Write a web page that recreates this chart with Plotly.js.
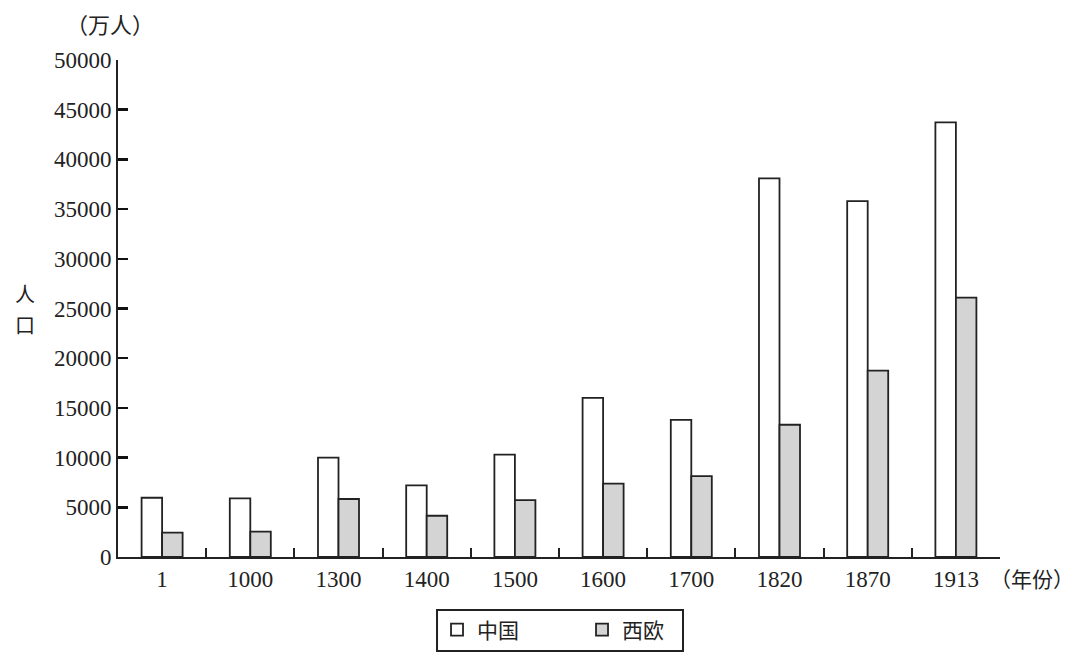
<!DOCTYPE html>
<html>
<head>
<meta charset="utf-8">
<script src="https://cdn.plot.ly/plotly-3.0.1.min.js"></script>
<style>html,body{margin:0;padding:0;background:#fff;}#chart{width:1080px;height:665px;}</style>
</head>
<body>
<div id="chart"></div>
<script>
const years = ["1", "1000", "1300", "1400", "1500", "1600", "1700", "1820", "1870", "1913"];
const china = [5960, 5900, 10000, 7200, 10300, 16000, 13800, 38100, 35800, 43716];
const westEurope = [2460, 2556, 5835, 4150, 5727, 7378, 8146, 13304, 18753, 26101];
const seriesNames = ["中国", "西欧"];
const yTicks = [0, 5000, 10000, 15000, 20000, 25000, 30000, 35000, 40000, 45000, 50000];

const serif = "Liberation Serif, Times New Roman, serif";
const cjk = "Noto Sans CJK SC, sans-serif";
const lineCol = "#222";

const traces = [
  {type: "bar", x: years, y: china, name: seriesNames[0],
   marker: {color: "#ffffff", line: {color: lineCol, width: 1.8}}},
  {type: "bar", x: years, y: westEurope, name: seriesNames[1],
   marker: {color: "#d4d4d4", line: {color: lineCol, width: 1.8}}}
];

const layout = {
  width: 1080, height: 665,
  margin: {l: 118, r: 80, t: 60, b: 108},
  paper_bgcolor: "#fff", plot_bgcolor: "#fff",
  barmode: "group", bargap: 0.535, bargroupgap: 0,
  showlegend: true,
  legend: {orientation: "h", x: 0.3617, xanchor: "left", y: -0.147, yanchor: "middle",
    bgcolor: "rgba(0,0,0,0)", borderwidth: 0, font: {family: cjk, size: 21, color: "#222"},
    entrywidth: 100, itemwidth: 30},
  shapes: [
    {type: "rect", xref: "paper", yref: "paper", x0: 0.3617, x1: 0.6406, y0: -0.1891, y1: -0.1066,
     line: {color: lineCol, width: 2}, fillcolor: "rgba(0,0,0,0)"}
  ],
  xaxis: {type: "category", showline: true, linecolor: lineCol, linewidth: 2,
    ticks: "inside", tickson: "boundaries", ticklen: 9, tickwidth: 2, tickcolor: lineCol,
    tickfont: {family: serif, size: 23, color: "#222"}, showgrid: false, zeroline: false,
    fixedrange: true},
  yaxis: {range: [0, 50000], tickvals: yTicks, ticktext: yTicks.map(String),
    showline: true, linecolor: lineCol, linewidth: 2,
    ticks: "inside", ticklen: 10, tickwidth: 2.5, tickcolor: "#111",
    tickfont: {family: serif, size: 23, color: "#222"}, showgrid: false, zeroline: false},
  annotations: [
    {text: "（万人）", xref: "paper", yref: "paper", x: -0.009, y: 1.075, xanchor: "center", yanchor: "middle",
     showarrow: false, font: {family: cjk, size: 22, color: "#222"}},
    {text: "（年份）", xref: "paper", yref: "paper", x: 1.086, y: -0.043, xanchor: "right", yanchor: "middle",
     showarrow: false, font: {family: cjk, size: 21, color: "#222"}},
    {text: "人", xref: "paper", yref: "paper", x: -0.105, y: 0.53, xanchor: "center", yanchor: "middle",
     showarrow: false, font: {family: cjk, size: 20, color: "#222"}},
    {text: "口", xref: "paper", yref: "paper", x: -0.105, y: 0.468, xanchor: "center", yanchor: "middle",
     showarrow: false, font: {family: cjk, size: 20, color: "#222"}}
  ]
};

Plotly.newPlot("chart", traces, layout, {displayModeBar: false, staticPlot: true});
</script>
</body>
</html>
